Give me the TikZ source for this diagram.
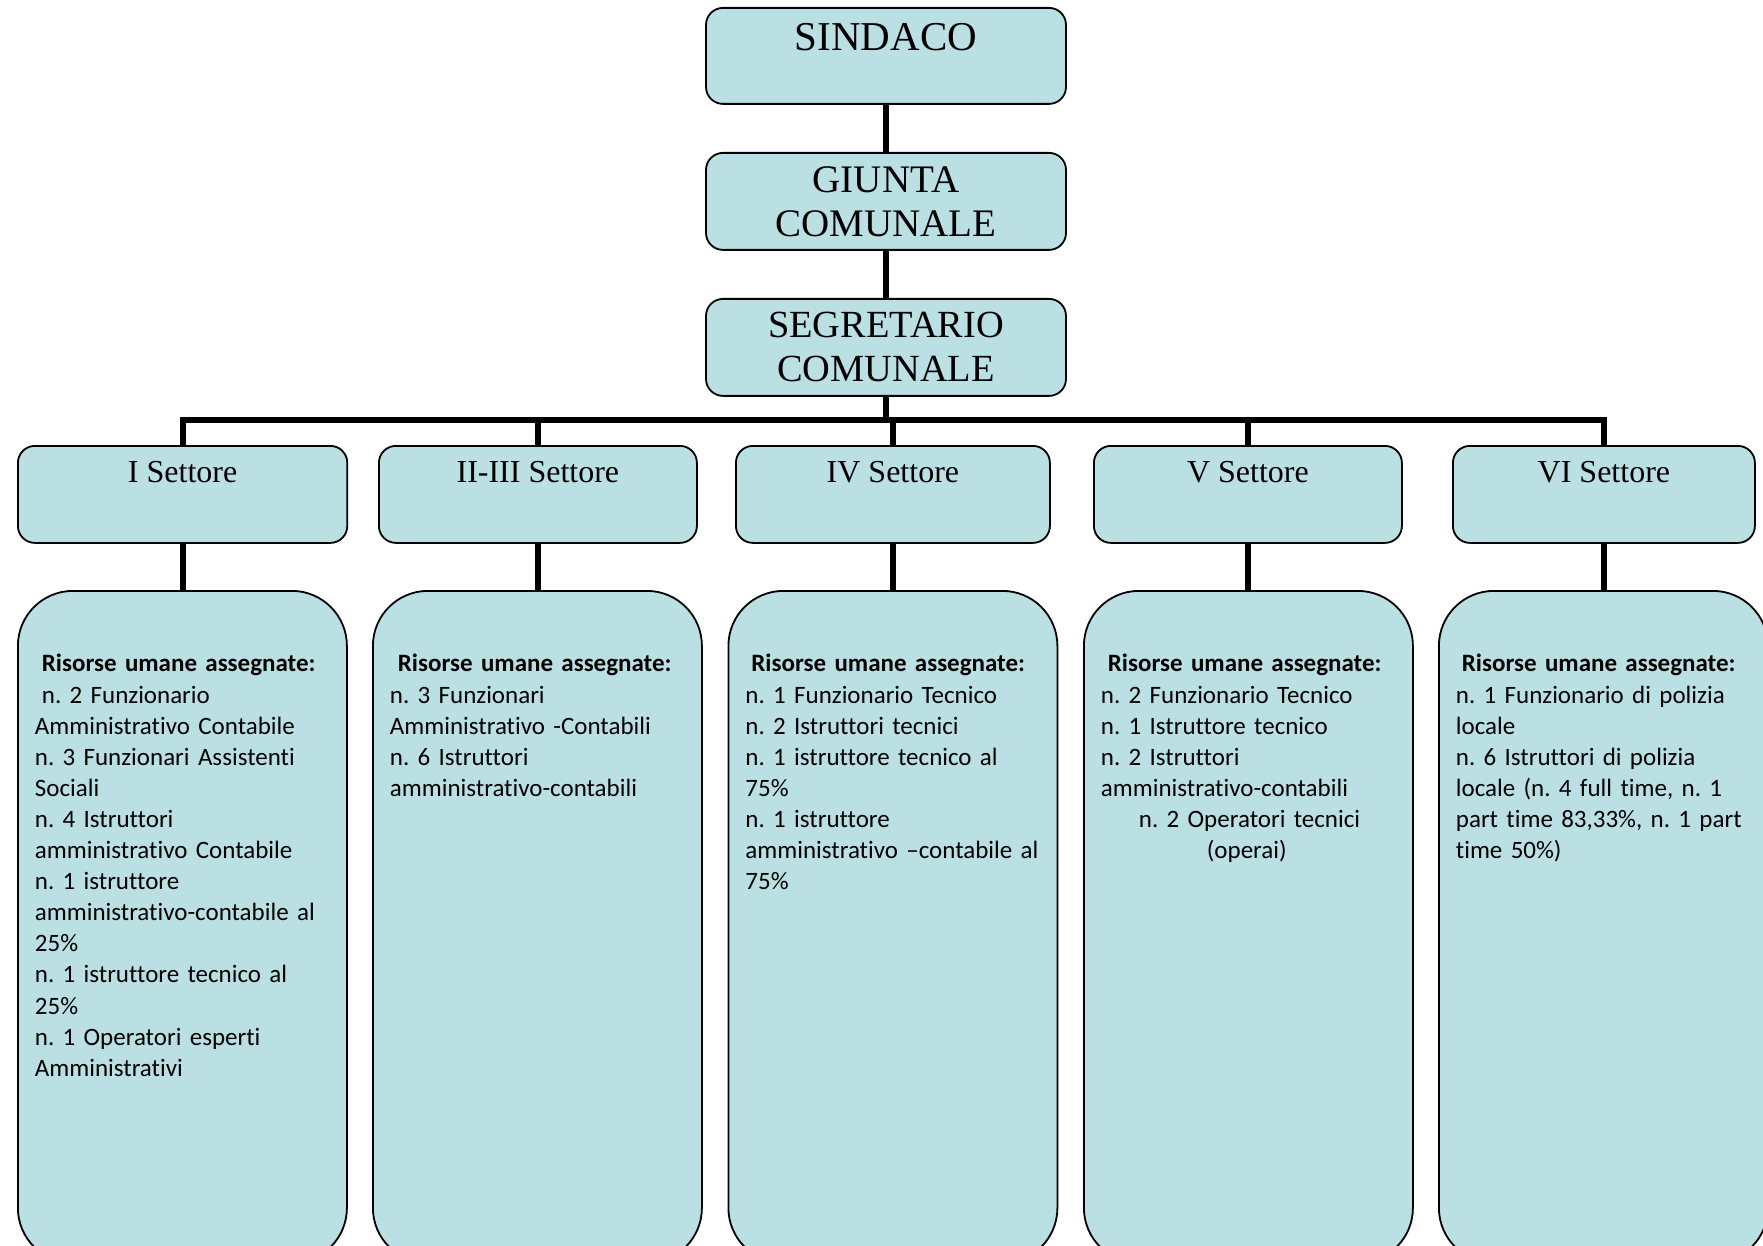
\documentclass[tikz,border=0pt]{standalone}
\usepackage{fontspec}
\setmainfont{Liberation Serif}
\newfontfamily\calib[Ligatures=NoCommon]{Carlito}
\definecolor{boxfill}{RGB}{186,224,228}
\frenchspacing
\begin{document}
\begin{tikzpicture}[x=0.5pt,y=-0.5pt,
  topbox/.style={draw=black, line width=0.9pt, fill=boxfill, rounded corners=8.5pt,
    minimum width=180pt, minimum height=48.5pt, inner sep=0pt, align=center,
    font=\fontsize{19.5}{22}\selectfont},
  setbox/.style={draw=black, line width=0.9pt, fill=boxfill, rounded corners=8.5pt,
    inner sep=0pt, text height=18.5pt, text depth=30pt,
    font=\fontsize{16}{19}\selectfont},
  resbox/.style={draw=black, line width=0.9pt, fill=boxfill, rounded corners=27.5pt,
    inner xsep=8.5pt, inner ysep=0pt, text width=147.5pt, text height=40.5pt,
    text depth=295.5pt, align=left, font=\calib\frenchspacing\fontsize{12.5}{15.55}\selectfont},
  conn/.style={line width=3pt}]
\useasboundingbox (0,0) rectangle (1763,1246);
\clip (0,0) rectangle (1763,1246);
\fill[white] (0,0) rectangle (1763,1246);

% top hierarchy
\node[topbox, text height=21.5pt, text depth=26.5pt, minimum height=0pt, anchor=north,
  font=\fontsize{20.5}{22}\selectfont] (sindaco) at (886,7) {SINDACO};
\node[topbox, anchor=north] (giunta) at (886,152) {GIUNTA\\COMUNALE};
\node[topbox, anchor=north, font=\fontsize{19.2}{22}\selectfont] (segr) at (886,298) {SEGRETARIO\\COMUNALE};

% sectors
\node[setbox, minimum width=164.7pt, anchor=north west] (s1) at (17,445) {I Settore};
\node[setbox, minimum width=159pt, anchor=north west] (s2) at (378,445) {II-III Settore};
\node[setbox, minimum width=157pt, anchor=north west] (s4) at (735,445) {IV Settore};
\node[setbox, minimum width=154pt, anchor=north west] (s5) at (1093,445) {V Settore};
\node[setbox, minimum width=151pt, anchor=north west] (s6) at (1452,445) {VI Settore};

% resources
\node[resbox, anchor=north west] (r1) at (17,590) {%
\mbox{\hspace*{3.5pt}\textbf{Risorse umane assegnate:}}\\
\mbox{\hspace*{3.5pt}n. 2 Funzionario}\\
\mbox{Amministrativo Contabile}\\
\mbox{n. 3 Funzionari Assistenti}\\
\mbox{Sociali}\\
\mbox{n. 4 Istruttori}\\
\mbox{amministrativo Contabile}\\
\mbox{n. 1 istruttore}\\
\mbox{amministrativo-contabile al}\\
\mbox{25\%}\\
\mbox{n. 1 istruttore tecnico al}\\
\mbox{25\%}\\
\mbox{n. 1 Operatori esperti}\\
\mbox{Amministrativi}};
\node[resbox, anchor=north west] (r2) at (372,590) {%
\mbox{\hspace*{4pt}\textbf{Risorse umane assegnate:}}\\
\mbox{n. 3 Funzionari}\\
\mbox{Amministrativo -Contabili}\\
\mbox{n. 6 Istruttori}\\
\mbox{amministrativo-contabili}};
\node[resbox, anchor=north west] (r4) at (727.5,590) {%
\mbox{\hspace*{3pt}\textbf{Risorse umane assegnate:}}\\
\mbox{n. 1 Funzionario Tecnico}\\
\mbox{n. 2 Istruttori tecnici}\\
\mbox{n. 1 istruttore tecnico al}\\
\mbox{75\%}\\
\mbox{n. 1 istruttore}\\
\mbox{amministrativo –contabile al}\\
\mbox{75\%}};
\node[resbox, anchor=north west] (r5) at (1083,590) {%
\mbox{\hspace*{3.5pt}\textbf{Risorse umane assegnate:}}\\
\mbox{n. 2 Funzionario Tecnico}\\
\mbox{n. 1 Istruttore tecnico}\\
\mbox{n. 2 Istruttori}\\
\mbox{amministrativo-contabili}\\
\mbox{\hspace*{19pt}n. 2 Operatori tecnici}\\
\mbox{\hspace*{53pt}(operai)}};
\node[resbox, anchor=north west] (r6) at (1438,590) {%
\mbox{\hspace*{3pt}\textbf{Risorse umane assegnate:}}\\
\mbox{n. 1 Funzionario di polizia}\\
\mbox{locale}\\
\mbox{n. 6 Istruttori di polizia}\\
\mbox{locale (n. 4 full time, n. 1}\\
\mbox{part time 83,33\%, n. 1 part}\\
\mbox{time 50\%)}};

% connectors
\coordinate (bus) at (886,420);
\draw[conn] (sindaco.south) -- (giunta.north);
\draw[conn] (giunta.south) -- (segr.north);
\draw[conn] (segr.south) -- (bus);
\draw[conn, line join=miter] (s1.north) -- (s1.north |- bus) -- (s6.north |- bus) -- (s6.north);
\foreach \n in {s2,s4,s5} \draw[conn] (\n.north |- bus) -- (\n.north);
\foreach \a/\b in {s1/r1,s2/r2,s4/r4,s5/r5,s6/r6} \draw[conn] (\a.south) -- (\a.south |- \b.north);
\end{tikzpicture}
\end{document}
